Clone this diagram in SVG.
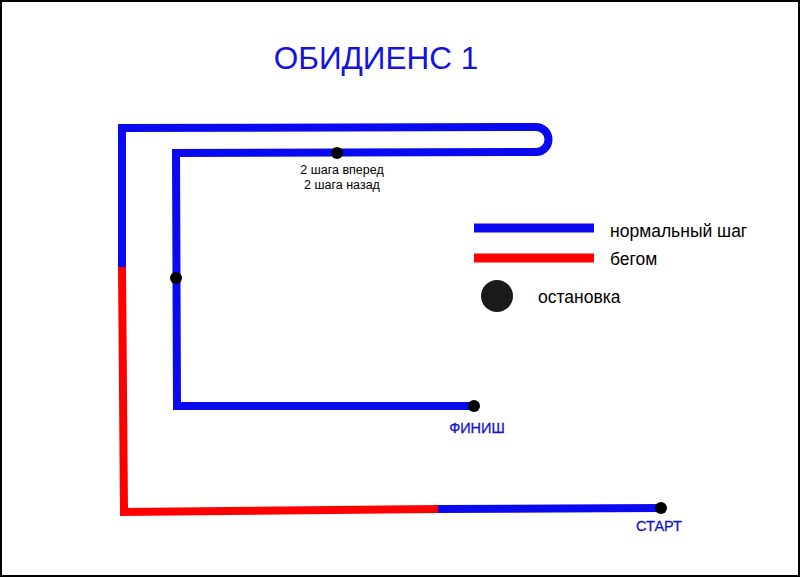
<svg xmlns="http://www.w3.org/2000/svg" width="800" height="577" viewBox="0 0 800 577">
<style>
.ln{fill:none;stroke-width:8;stroke-linejoin:miter;stroke-linecap:butt}
.b{stroke:#0a0af0}
.r{stroke:#ff0000}
.dot{fill:#000}
.t{font-family:"Liberation Sans",Arial,sans-serif}
</style>
<rect x="1" y="1" width="798" height="575" fill="#fff" stroke="#000" stroke-width="2"/>
<text id="title" class="t" x="376" y="69" font-size="31.5" text-anchor="middle" fill="#1414dc">ОБИДИЕНС 1</text>
<g id="connectors">
<path class="ln b" d="M122,267 L122,128 L536,127 A12.5,12.5 0 0 1 536,152 L176,153 L177,406 L474,406"/>
<path class="ln r" d="M122,267 L124,512 L438,509"/>
<path class="ln b" d="M438,509 L661,508"/>
</g>
<g id="stop1"><circle class="dot" cx="337" cy="153" r="6"/></g>
<g id="stop2"><circle class="dot" cx="176" cy="278" r="6"/></g>
<g id="finish"><circle class="dot" cx="474" cy="406" r="6"/>
<text class="t" x="477" y="433" font-size="14.5" text-anchor="middle" fill="#1414c8" stroke="#1414c8" stroke-width="0.3">ФИНИШ</text></g>
<g id="start"><circle class="dot" cx="661" cy="508" r="6"/>
<text class="t" x="659" y="531" font-size="14.5" text-anchor="middle" fill="#1414c8" stroke="#1414c8" stroke-width="0.3">СТАРТ</text></g>
<g id="steps-label">
<text class="t" x="342" y="174" font-size="12.5" text-anchor="middle" fill="#000">2 шага вперед</text>
<text class="t" x="342" y="189" font-size="12.5" text-anchor="middle" fill="#000">2 шага назад</text>
</g>
<g id="legend">
<line x1="474" y1="228" x2="594" y2="228" stroke="#0a0af0" stroke-width="9"/>
<text class="t" x="610" y="237" font-size="17.5" fill="#000">нормальный шаг</text>
<line x1="474" y1="258" x2="594" y2="258" stroke="#ff0000" stroke-width="9"/>
<text class="t" x="610" y="265" font-size="17.5" fill="#000">бегом</text>
<circle cx="497" cy="296" r="16" fill="#1a1a1a"/>
<text class="t" x="538" y="303" font-size="17.5" fill="#000">остановка</text>
</g>
</svg>
